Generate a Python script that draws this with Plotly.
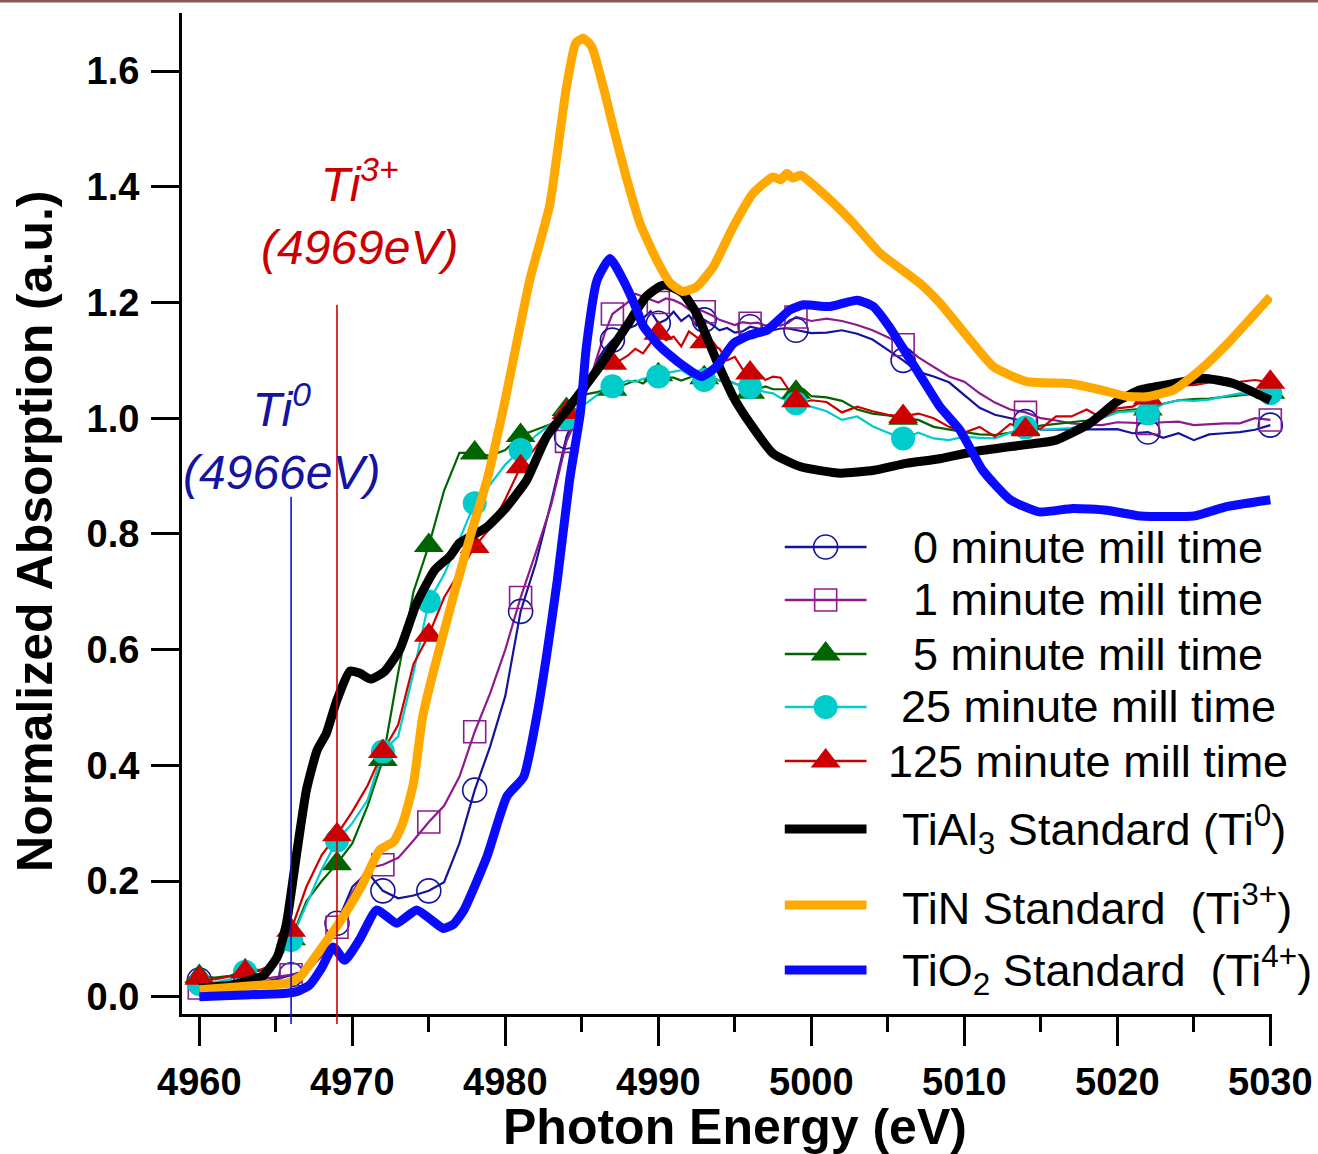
import plotly.graph_objects as go

# ---------------------------------------------------------------- data
# energy grid shared by the milled samples (eV)
E_SAMPLE = [
    4960, 4961, 4962, 4963, 4964, 4965, 4966, 4967, 4968, 4969,
    4970, 4971, 4972, 4973, 4974, 4975, 4976, 4977, 4978, 4979,
    4980, 4981, 4982, 4983, 4984, 4985, 4986, 4986.5, 4987, 4987.5,
    4988, 4988.5, 4989, 4989.5, 4990, 4990.5, 4991, 4991.5, 4992, 4992.5,
    4993, 4993.5, 4994, 4994.5, 4995, 4995.5, 4996, 4996.5, 4997, 4997.5,
    4998, 4998.5, 4999, 4999.5, 5000, 5001, 5002, 5003, 5004, 5005,
    5006, 5007, 5008, 5009, 5010, 5011, 5012, 5013, 5014, 5015,
    5016, 5017, 5018, 5019, 5020, 5021, 5022, 5023, 5024, 5025,
    5026, 5027, 5028, 5029, 5030,
]
# energies at which the sample curves carry a symbol
MARKER_E = [4960, 4963, 4966, 4969, 4972, 4975, 4978, 4981, 4984, 4987,
            4990, 4993, 4996, 4999, 5006, 5014, 5022, 5030]

MILL_0 = [
    0.029, 0.022, 0.020, 0.022, 0.025, 0.030, 0.038, 0.045, 0.075, 0.127,
    0.190, 0.215, 0.183, 0.170, 0.175, 0.183, 0.198, 0.265, 0.357, 0.432,
    0.520, 0.666, 0.750, 0.855, 0.968, 1.030, 1.100, 1.120, 1.135, 1.145,
    1.155, 1.160, 1.172, 1.185, 1.164, 1.170, 1.184, 1.168, 1.178, 1.160,
    1.170, 1.162, 1.152, 1.156, 1.148, 1.150, 1.158, 1.155, 1.152, 1.152,
    1.155, 1.155, 1.152, 1.150, 1.147, 1.148, 1.152, 1.146, 1.136, 1.118,
    1.100, 1.080, 1.072, 1.062, 1.040, 1.018, 1.006, 1.000, 0.994, 0.980,
    0.980, 0.980, 0.981, 0.980, 0.981, 0.974, 0.976, 0.966, 0.974, 0.962,
    0.972, 0.974, 0.976, 0.980, 0.988,
]
MILL_1 = [
    0.015, 0.020, 0.022, 0.028, 0.030, 0.034, 0.038, 0.042, 0.070, 0.120,
    0.180, 0.222, 0.228, 0.240, 0.270, 0.302, 0.330, 0.380, 0.458, 0.524,
    0.600, 0.690, 0.768, 0.850, 0.960, 1.020, 1.106, 1.147, 1.180, 1.190,
    1.200, 1.215, 1.210, 1.205, 1.200, 1.207, 1.204, 1.198, 1.188, 1.190,
    1.184, 1.178, 1.170, 1.165, 1.161, 1.166, 1.164, 1.165, 1.160, 1.163,
    1.160, 1.165, 1.175, 1.172, 1.168, 1.172, 1.168, 1.161, 1.152, 1.140,
    1.127, 1.105, 1.089, 1.072, 1.063, 1.043, 1.027, 1.015, 1.010, 1.000,
    0.996, 0.991, 0.989, 0.988, 0.993, 0.992, 0.991, 0.993, 0.994, 0.988,
    0.990, 0.991, 0.991, 1.000, 0.997,
]
MILL_5 = [
    0.035, 0.033, 0.036, 0.045, 0.047, 0.055, 0.100, 0.165, 0.200, 0.230,
    0.265, 0.330, 0.410, 0.560, 0.700, 0.780, 0.875, 0.940, 0.940, 0.935,
    0.945, 0.970, 0.980, 0.990, 1.015, 1.040, 1.045, 1.050, 1.050, 1.055,
    1.060, 1.065, 1.060, 1.070, 1.075, 1.070, 1.070, 1.065, 1.070, 1.075,
    1.070, 1.070, 1.065, 1.065, 1.060, 1.055, 1.045, 1.050, 1.055, 1.050,
    1.050, 1.050, 1.045, 1.050, 1.038, 1.036, 1.030, 1.015, 1.008, 1.005,
    1.000, 0.997, 0.985, 0.980, 0.976, 0.972, 0.971, 0.975, 0.982, 0.987,
    0.990, 0.993, 0.996, 1.002, 1.012, 1.015, 1.016, 1.025, 1.031, 1.033,
    1.034, 1.037, 1.040, 1.042, 1.045,
]
MILL_25 = [
    0.022, 0.025, 0.030, 0.043, 0.045, 0.060, 0.098, 0.160, 0.220, 0.270,
    0.300, 0.340, 0.424, 0.450, 0.560, 0.683, 0.730, 0.790, 0.853, 0.885,
    0.920, 0.945, 0.970, 0.990, 1.000, 1.020, 1.040, 1.050, 1.055, 1.060,
    1.065, 1.063, 1.068, 1.070, 1.072, 1.078, 1.080, 1.083, 1.075, 1.070,
    1.066, 1.068, 1.065, 1.066, 1.060, 1.057, 1.054, 1.050, 1.045, 1.043,
    1.035, 1.030, 1.026, 1.023, 1.020, 1.012, 0.997, 1.003, 0.986, 0.975,
    0.965, 0.975, 0.965, 0.962, 0.968, 0.966, 0.965, 0.975, 0.984, 0.980,
    0.982, 0.983, 0.990, 1.000, 1.010, 1.012, 1.008, 1.025, 1.031, 1.030,
    1.032, 1.038, 1.043, 1.042, 1.043,
]
MILL_125 = [
    0.032, 0.030, 0.035, 0.043, 0.045, 0.060, 0.115, 0.190, 0.245, 0.280,
    0.320, 0.365, 0.424, 0.470, 0.575, 0.625, 0.690, 0.735, 0.778, 0.810,
    0.860, 0.916, 0.950, 0.990, 1.010, 1.045, 1.080, 1.095, 1.095, 1.100,
    1.108, 1.120, 1.112, 1.130, 1.147, 1.135, 1.141, 1.124, 1.150, 1.140,
    1.132, 1.124, 1.120, 1.100, 1.106, 1.085, 1.078, 1.080, 1.066, 1.072,
    1.070, 1.050, 1.030, 1.028, 1.031, 1.028, 1.010, 1.020, 1.012, 1.006,
    1.003, 1.008, 1.000, 0.985, 0.975, 0.985, 0.968, 0.990, 0.980, 0.982,
    1.003, 1.003, 1.015, 1.000, 1.017, 1.020, 1.035, 1.050, 1.057, 1.057,
    1.062, 1.063, 1.063, 1.066, 1.062,
]

# reference standards
E_TIAL3 = [4960, 4962, 4963.5, 4964.2, 4965.1, 4965.7, 4966.4, 4967.0, 4967.7, 4968.3,
           4969.0, 4969.85, 4970.5, 4971.2, 4972.1, 4973.1, 4974.2, 4975.4, 4976.4, 4977.0,
           4978.8, 4980.1, 4981.4, 4982.7, 4984.2, 4986.0, 4987.9, 4989.2, 4990.1, 4990.5,
           4991.6, 4992.5, 4993.8, 4994.9, 4996.0, 4997.5, 4999.3, 5001.9, 5004.1, 5006.2,
           5008.4, 5010.6, 5013.9, 5016.0, 5018.2, 5020.0, 5021.5, 5023.7, 5025.6, 5027.6,
           5030]
TIAL3 = [0.015, 0.020, 0.030, 0.037, 0.069, 0.127, 0.254, 0.357, 0.426, 0.455,
         0.513, 0.563, 0.559, 0.549, 0.562, 0.600, 0.680, 0.738, 0.762, 0.784,
         0.812, 0.847, 0.893, 0.968, 1.020, 1.083, 1.158, 1.210, 1.228, 1.230,
         1.216, 1.181, 1.100, 1.037, 0.991, 0.939, 0.916, 0.905, 0.910, 0.922,
         0.930, 0.942, 0.954, 0.962, 0.991, 1.029, 1.049, 1.060, 1.069, 1.060,
         1.031]

E_TIN = [4960, 4962, 4964, 4965.7, 4966.6, 4967.9, 4969.4, 4970.7, 4971.8, 4972.7,
         4973.3, 4974.0, 4974.6, 4975.3, 4976.6, 4977.7, 4978.8, 4979.9, 4980.7, 4981.6,
         4982.9, 4983.6, 4984.0, 4984.6, 4985.1, 4985.65, 4986.4, 4987.1, 4987.9, 4988.8,
         4989.9, 4990.8, 4991.6, 4992.5, 4993.6, 4994.9, 4996.2, 4997.5, 4998.0, 4998.4,
         4998.8, 4999.3, 5001.0, 5002.75, 5004.5, 5007.1, 5008.4, 5010.2, 5011.9, 5014.1,
         5016.9, 5018.9, 5020.6, 5021.9, 5023.7, 5025.4, 5027.2, 5030]
TIN = [0.012, 0.016, 0.020, 0.023, 0.035, 0.081, 0.138, 0.196, 0.254, 0.268,
       0.300, 0.369, 0.484, 0.562, 0.691, 0.795, 0.893, 1.020, 1.124, 1.239,
       1.368, 1.498, 1.573, 1.648, 1.657, 1.642, 1.573, 1.498, 1.417, 1.337,
       1.273, 1.233, 1.219, 1.227, 1.262, 1.331, 1.389, 1.417, 1.412, 1.423,
       1.415, 1.420, 1.383, 1.337, 1.285, 1.233, 1.199, 1.141, 1.089, 1.063,
       1.060, 1.049, 1.038, 1.037, 1.049, 1.083, 1.129, 1.210]

E_TIO2 = [4960, 4962, 4964, 4965.7, 4966.5, 4967.2, 4968.0, 4968.76, 4969.5, 4970.5,
          4971.6, 4972.9, 4974.2, 4975.3, 4975.95, 4976.6, 4977.3, 4978.8, 4980.1, 4981.2,
          4982.05, 4982.7, 4983.4, 4984.2, 4984.9, 4985.3, 4986.0, 4986.84, 4987.7, 4988.6,
          4989.0, 4990.1, 4991.4, 4992.8, 4993.8, 4994.9, 4996.0, 4997.1, 4998.6, 4999.5,
          5001.2, 5003.0, 5004.06, 5005.1, 5006.2, 5007.3, 5008.4, 5009.7, 5011.2, 5013.0,
          5014.9, 5017.1, 5019.3, 5021.5, 5025.0, 5027.15, 5030]
TIO2 = [0.000, 0.002, 0.004, 0.006, 0.010, 0.020, 0.050, 0.086, 0.063, 0.100,
        0.150, 0.127, 0.150, 0.130, 0.118, 0.125, 0.150, 0.242, 0.346, 0.380,
        0.484, 0.590, 0.720, 0.893, 1.008, 1.124, 1.239, 1.276, 1.239, 1.187,
        1.160, 1.124, 1.095, 1.072, 1.089, 1.129, 1.144, 1.152, 1.187, 1.196,
        1.193, 1.204, 1.193, 1.158, 1.112, 1.066, 1.020, 0.980, 0.910, 0.859,
        0.838, 0.844, 0.841, 0.831, 0.831, 0.847, 0.859]

# edge positions marked on the plot
EDGE_TI0 = 4966
EDGE_TI3 = 4969
EDGE_TI0_TOP = 0.864
EDGE_TI3_TOP = 1.196

X_TICKS = [4960, 4970, 4980, 4990, 5000, 5010, 5020, 5030]
Y_TICKS = [0.0, 0.2, 0.4, 0.6, 0.8, 1.0, 1.2, 1.4, 1.6]

X_RANGE = [4958.87, 5030.11]
Y_RANGE = [-0.0299, 1.7004]

FONT = "Liberation Sans"

samples = [
    dict(name="0 minute mill time", y=MILL_0, color="#14149c", symbol="circle-open", size=24),
    dict(name="1 minute mill time", y=MILL_1, color="#8e1a8e", symbol="square-open", size=22),
    dict(name="5 minute mill time", y=MILL_5, color="#006400", symbol="triangle-up", size=26),
    dict(name="25 minute mill time", y=MILL_25, color="#00cccc", symbol="circle", size=24),
    dict(name="125 minute mill time", y=MILL_125, color="#cc0000", symbol="triangle-up", size=26),
]
standards = [
    dict(name="TiAl<sub>3</sub> Standard (Ti<sup>0</sup>)", x=E_TIAL3, y=TIAL3, color="#000000"),
    dict(name="TiN Standard  (Ti<sup>3+</sup>)", x=E_TIN, y=TIN, color="#ffa800"),
    dict(name="TiO<sub>2</sub> Standard  (Ti<sup>4+</sup>)", x=E_TIO2, y=TIO2, color="#0a0aff"),
]


def marker_style(s):
    open_sym = s["symbol"].endswith("open")
    return dict(symbol=s["symbol"], size=s["size"], color=s["color"],
                line=dict(width=1.6 if open_sym else 0, color=s["color"]))


fig = go.Figure()

# thin sample lines
for s in samples:
    fig.add_trace(go.Scatter(x=E_SAMPLE, y=s["y"], mode="lines", name=s["name"],
                             line=dict(color=s["color"], width=2.2), showlegend=False))
# symbols on every third eV / coarse steps
for s in samples:
    mx = [e for e in E_SAMPLE if e in MARKER_E]
    my = [v for e, v in zip(E_SAMPLE, s["y"]) if e in MARKER_E]
    fig.add_trace(go.Scatter(x=mx, y=my, mode="markers", marker=marker_style(s),
                             cliponaxis=False, showlegend=False, hoverinfo="skip"))
# thick standard spectra, lightly smoothed
for s in standards:
    fig.add_trace(go.Scatter(x=s["x"], y=s["y"], mode="lines", name=s["name"],
                             line=dict(color=s["color"], width=9, shape="spline",
                                       smoothing=0.5),
                             showlegend=False))


def to_paper(v):
    return (v - Y_RANGE[0]) / (Y_RANGE[1] - Y_RANGE[0])


shapes = [
    dict(type="line", xref="x", yref="paper", x0=EDGE_TI0, x1=EDGE_TI0,
         y0=-0.01, y1=to_paper(EDGE_TI0_TOP), line=dict(color="#1414c8", width=1.6), layer="above"),
    dict(type="line", xref="x", yref="paper", x0=EDGE_TI3, x1=EDGE_TI3,
         y0=-0.01, y1=to_paper(EDGE_TI3_TOP), line=dict(color="#cc0000", width=1.6), layer="above"),
    # thin frame strip along the top edge of the figure
    dict(type="rect", xref="paper", yref="paper", x0=-0.2, x1=1.1, y0=1.0105, y1=1.02,
         fillcolor="#86585a", line=dict(width=0)),
]

annotations = [
    dict(text="<i>Ti<sup>0</sup></i><br><i>(4966eV)</i>", xref="paper", yref="paper",
         x=0.0913, y=0.5764, xanchor="center", yanchor="middle", showarrow=False,
         font=dict(family=FONT, size=48, color="#1414a0")),
    dict(text="<i>Ti<sup>3+</sup></i><br><i>(4969eV)</i>", xref="paper", yref="paper",
         x=0.1633, y=0.8002, xanchor="center", yanchor="middle", showarrow=False,
         font=dict(family=FONT, size=48, color="#cc0000")),
    dict(text="Photon Energy (eV)", xref="paper", yref="paper", x=0.5073, y=-0.1129,
         xanchor="center", yanchor="middle", showarrow=False,
         font=dict(family=FONT, size=50, color="black", weight="bold")),
    dict(text="Normalized Absorption (a.u.)", xref="paper", yref="paper", x=-0.1349, y=0.4825,
         xanchor="center", yanchor="middle", textangle=-90, showarrow=False,
         font=dict(family=FONT, size=50, color="black", weight="bold")),
]

# hand-built legend block (keys on an overlay axis spanning the plot area)
LEG_ROWS = [0.4665, 0.4136, 0.3596, 0.3067, 0.2527, 0.1848, 0.1089, 0.0440]
LEG_X0, LEG_X1, LEG_XM = 0.553, 0.628, 0.5905
LEG_TEXT_CENTER = 0.8313
LEG_TEXT_LEFT = 0.6588

for i, s in enumerate(samples):
    yrow = LEG_ROWS[i]
    fig.add_trace(go.Scatter(x=[LEG_X0, LEG_X1], y=[yrow, yrow], mode="lines",
                             line=dict(color=s["color"], width=2.6), xaxis="x2", yaxis="y2",
                             showlegend=False, hoverinfo="skip"))
    fig.add_trace(go.Scatter(x=[LEG_XM], y=[yrow], mode="markers", marker=marker_style(s),
                             xaxis="x2", yaxis="y2", showlegend=False, hoverinfo="skip",
                             cliponaxis=False))
    annotations.append(dict(text=s["name"], xref="paper", yref="paper", x=LEG_TEXT_CENTER,
                            y=yrow, xanchor="center", yanchor="middle", showarrow=False,
                            font=dict(family=FONT, size=45, color="black")))
for j, s in enumerate(standards):
    yrow = LEG_ROWS[len(samples) + j]
    fig.add_trace(go.Scatter(x=[LEG_X0, LEG_X1], y=[yrow, yrow], mode="lines",
                             line=dict(color=s["color"], width=9), xaxis="x2", yaxis="y2",
                             showlegend=False, hoverinfo="skip"))
    annotations.append(dict(text=s["name"], xref="paper", yref="paper", x=LEG_TEXT_LEFT,
                            y=yrow, xanchor="left", yanchor="middle", showarrow=False,
                            font=dict(family=FONT, size=45, color="black")))

fig.update_layout(
    width=1318, height=1154,
    margin=dict(l=182, r=46, t=13, b=140, autoexpand=False),
    paper_bgcolor="white", plot_bgcolor="white",
    showlegend=False,
    shapes=shapes, annotations=annotations,
    xaxis=dict(range=X_RANGE, tickvals=X_TICKS, ticks="outside", ticklen=29, tickwidth=2.5,
               tickcolor="black", showline=True, linewidth=3, linecolor="black",
               showgrid=False, zeroline=False, ticklabelstandoff=3, automargin=False,
               minor=dict(dtick=5, tick0=4960, ticks="outside", ticklen=15, tickwidth=2.5,
                          tickcolor="black", showgrid=False),
               tickfont=dict(family=FONT, size=38, color="black", weight="bold")),
    yaxis=dict(range=Y_RANGE, tickvals=Y_TICKS, tickformat=".1f", ticks="outside",
               ticklen=28, tickwidth=2.5, tickcolor="black", showline=True, linewidth=3,
               linecolor="black", showgrid=False, zeroline=False, ticklabelstandoff=4,
               automargin=False,
               tickfont=dict(family=FONT, size=38, color="black", weight="bold")),
    xaxis2=dict(range=[0, 1], overlaying="x", anchor="y2", visible=False, fixedrange=True),
    yaxis2=dict(range=[0, 1], overlaying="y", anchor="x2", visible=False, fixedrange=True),
)

fig.write_html("out.html")
